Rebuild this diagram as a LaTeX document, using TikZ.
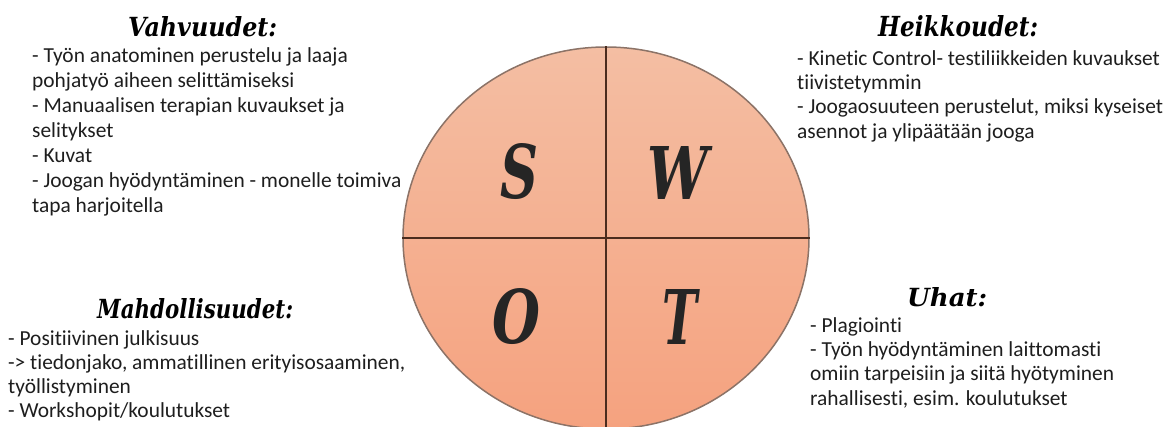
\documentclass[tikz,border=0pt]{standalone}
\usepackage{fontspec}
\usepackage{graphicx}
\setmainfont{Carlito}[Ligatures=NoCommon]
\newfontfamily\headfont{DejaVu Serif}
\usetikzlibrary{shapes.geometric}
\definecolor{swotTop}{HTML}{F4BEA3}
\definecolor{swotBot}{HTML}{F5A27F}
\definecolor{rimcol}{HTML}{8C7367}
\definecolor{divcol}{HTML}{4B2C1E}
\definecolor{bodytext}{HTML}{1E1E1E}
\definecolor{lettercol}{HTML}{252525}
\newcommand\swotlines[2]{\vtop{\fontsize{21.4pt}{#1pt}\selectfont\lineskiplimit=-30pt\halign{##\hfil\cr#2\crcr}}}
\newcommand\swothead[3]{\resizebox{#1pt}{#2pt}{\headfont\bfseries\itshape #3}}
\tikzset{
  body/.style={anchor=base west, inner sep=0pt, text=bodytext},
  head/.style={anchor=south west, inner sep=0pt, text=black},
  letter/.style={anchor=south west, inner sep=0pt, text=lettercol},
  divider/.style={draw=divcol, line width=2pt},
  disc/.style={ellipse, inner sep=0pt, minimum width=406pt, minimum height=382pt,
    top color=swotTop, bottom color=swotBot, draw=rimcol, line width=1.5pt},
}
\begin{document}
\begin{tikzpicture}[x=1pt,y=-1pt]
\useasboundingbox[fill=white] (0,0) rectangle (1168,426);
% circle
\node[disc] (c) at (606,238) {};
\draw[divider] (c.north) -- (c.south);
\draw[divider] (c.west) -- (c.east);
% letters
\node[letter] (ls) at (500,200) {\swothead{38}{55}{S}};
\node[letter] (lw) at (647,200) {\swothead{61}{53}{W}};
\node[letter] (lo) at (492,345) {\swothead{48}{55}{O}};
\node[letter] (lt) at (662,345) {\swothead{35}{55}{T}};
% headings
\node[head] (hs) at (128,37) {\swothead{149}{20}{Vahvuudet:}};
\node[head] (hw) at (878,37) {\swothead{160}{21}{Heikkoudet:}};
\node[head] (ho) at (97,319) {\swothead{196}{20}{Mahdollisuudet:}};
\node[head] (ht) at (907,307) {\swothead{80}{19}{Uhat:}};
% bodies
\node[body] (ts) at (32,62) {\swotlines{25}{- Työn anatominen perustelu ja laaja\cr
pohjatyö aiheen selittämiseksi\cr
- Manuaalisen terapian kuvaukset ja\cr
selitykset\cr
- Kuvat\cr
- Joogan hyödyntäminen - monelle toimiva\cr
tapa harjoitella}};
\node[body] (tw) at (797,65) {\swotlines{24.4}{- Kinetic Control- testiliikkeiden kuvaukset\cr
tiivistetymmin\cr
- Joogaosuuteen perustelut, miksi kyseiset\cr
asennot ja ylipäätään jooga}};
\node[body] (to) at (8,345) {\swotlines{24.2}{- Positiivinen julkisuus\cr
-> tiedonjako, ammatillinen erityisosaaminen,\cr
työllistyminen\cr
- Workshopit/koulutukset}};
\node[body] (tt) at (810,332) {\swotlines{24.4}{- Plagiointi\cr
- Työn hyödyntäminen laittomasti\cr
omiin tarpeisiin ja siitä hyötyminen\cr
rahallisesti, esim. koulutukset}};
\end{tikzpicture}
\end{document}
